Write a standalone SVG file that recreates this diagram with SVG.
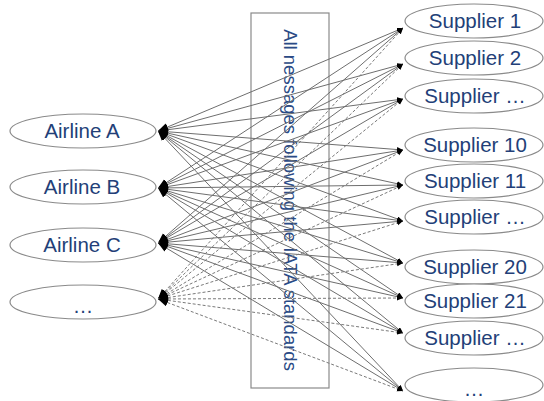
<svg xmlns="http://www.w3.org/2000/svg" width="544" height="401" viewBox="0 0 544 401">
<defs>
<style>
.node ellipse{fill:#fff;stroke:#8a8a8a;stroke-width:1.2}
.lbl{font-family:"Liberation Sans",Arial,sans-serif;font-size:20.5px;fill:#233f78;text-anchor:middle}
.c line{stroke:#6e6e6e;stroke-width:1;fill:none}
.c .d{stroke-dasharray:3,2;stroke:#7a7a7a}
.c line{marker-start:url(#big);marker-end:url(#small)}
.box{fill:none;stroke:#8a8a8a;stroke-width:1.2}
.vt{font-family:"Liberation Sans",Arial,sans-serif;font-size:18.5px;fill:#2a4a85;text-anchor:middle}
</style>
<marker id="big" markerUnits="userSpaceOnUse" markerWidth="12" markerHeight="10" refX="10" refY="4" orient="auto-start-reverse">
<path d="M0,0 L10,4 L0,8 z" fill="#000"/>
</marker>
<marker id="small" markerUnits="userSpaceOnUse" markerWidth="8" markerHeight="6" refX="6" refY="2.5" orient="auto">
<path d="M0,0 L6,2.5 L0,5 z" fill="#000"/>
</marker>
</defs>
<rect width="544" height="401" fill="#fff"/>
<g id="standards-box">
<rect class="box" x="251" y="13" width="78" height="375"/>
<text class="vt" transform="translate(284,200) rotate(90)">All nessages following the IATA standards</text>
</g>
<g id="airline-a" class="node"><ellipse cx="83" cy="131" rx="73" ry="17"/><text class="lbl" x="82" y="138">Airline A</text></g>
<g id="airline-b" class="node"><ellipse cx="83" cy="187" rx="73" ry="17"/><text class="lbl" x="82" y="194">Airline B</text></g>
<g id="airline-c" class="node"><ellipse cx="83" cy="245" rx="73" ry="17"/><text class="lbl" x="82" y="252">Airline C</text></g>
<g id="airline-more" class="node"><ellipse cx="83" cy="302" rx="73" ry="17"/><text class="lbl" x="83" y="313">…</text></g>
<g id="supplier-1" class="node"><ellipse cx="474" cy="21" rx="69" ry="17"/><text class="lbl" x="475" y="28">Supplier 1</text></g>
<g id="supplier-2" class="node"><ellipse cx="474" cy="58" rx="69" ry="17"/><text class="lbl" x="475" y="65">Supplier 2</text></g>
<g id="supplier-3" class="node"><ellipse cx="474" cy="96" rx="69" ry="17"/><text class="lbl" x="475" y="103">Supplier …</text></g>
<g id="supplier-10" class="node"><ellipse cx="474" cy="145" rx="69" ry="17"/><text class="lbl" x="475" y="152">Supplier 10</text></g>
<g id="supplier-11" class="node"><ellipse cx="474" cy="181" rx="69" ry="17"/><text class="lbl" x="475" y="188">Supplier 11</text></g>
<g id="supplier-12" class="node"><ellipse cx="474" cy="217" rx="69" ry="17"/><text class="lbl" x="475" y="224">Supplier …</text></g>
<g id="supplier-20" class="node"><ellipse cx="474" cy="267" rx="69" ry="17"/><text class="lbl" x="475" y="274">Supplier 20</text></g>
<g id="supplier-21" class="node"><ellipse cx="474" cy="301" rx="69" ry="17"/><text class="lbl" x="475" y="308">Supplier 21</text></g>
<g id="supplier-22" class="node"><ellipse cx="474" cy="338" rx="69" ry="17"/><text class="lbl" x="475" y="345">Supplier …</text></g>
<g id="supplier-more" class="node"><ellipse cx="474" cy="385" rx="69" ry="17"/><text class="lbl" x="474" y="396">…</text></g>
<g id="connectors" class="c">
<line x1="158" y1="131" x2="403" y2="28"/><line x1="158" y1="131" x2="403" y2="64"/><line x1="158" y1="131" x2="403" y2="99"/><line x1="158" y1="131" x2="403" y2="150"/><line x1="158" y1="131" x2="403" y2="185"/><line x1="158" y1="131" x2="403" y2="221"/><line x1="158" y1="131" x2="403" y2="263"/><line x1="158" y1="131" x2="403" y2="298"/><line x1="158" y1="131" x2="403" y2="333"/><line x1="158" y1="131" x2="403" y2="391"/>
<line x1="158" y1="188" x2="403" y2="28"/><line x1="158" y1="188" x2="403" y2="64"/><line x1="158" y1="188" x2="403" y2="99"/><line x1="158" y1="188" x2="403" y2="150"/><line x1="158" y1="188" x2="403" y2="185"/><line x1="158" y1="188" x2="403" y2="221"/><line x1="158" y1="188" x2="403" y2="263"/><line x1="158" y1="188" x2="403" y2="298"/><line x1="158" y1="188" x2="403" y2="333"/><line x1="158" y1="188" x2="403" y2="391"/>
<line x1="158" y1="243" x2="403" y2="28"/><line x1="158" y1="243" x2="403" y2="64"/><line x1="158" y1="243" x2="403" y2="99"/><line x1="158" y1="243" x2="403" y2="150"/><line x1="158" y1="243" x2="403" y2="185"/><line x1="158" y1="243" x2="403" y2="221"/><line x1="158" y1="243" x2="403" y2="263"/><line x1="158" y1="243" x2="403" y2="298"/><line x1="158" y1="243" x2="403" y2="333"/><line x1="158" y1="243" x2="403" y2="391"/>
<line class="d" x1="158" y1="299" x2="403" y2="28"/><line class="d" x1="158" y1="299" x2="403" y2="64"/><line class="d" x1="158" y1="299" x2="403" y2="99"/><line class="d" x1="158" y1="299" x2="403" y2="150"/><line class="d" x1="158" y1="299" x2="403" y2="185"/><line class="d" x1="158" y1="299" x2="403" y2="221"/><line class="d" x1="158" y1="299" x2="403" y2="263"/><line class="d" x1="158" y1="299" x2="403" y2="298"/><line class="d" x1="158" y1="299" x2="403" y2="333"/><line class="d" x1="158" y1="299" x2="403" y2="391"/>
</g>
</svg>
